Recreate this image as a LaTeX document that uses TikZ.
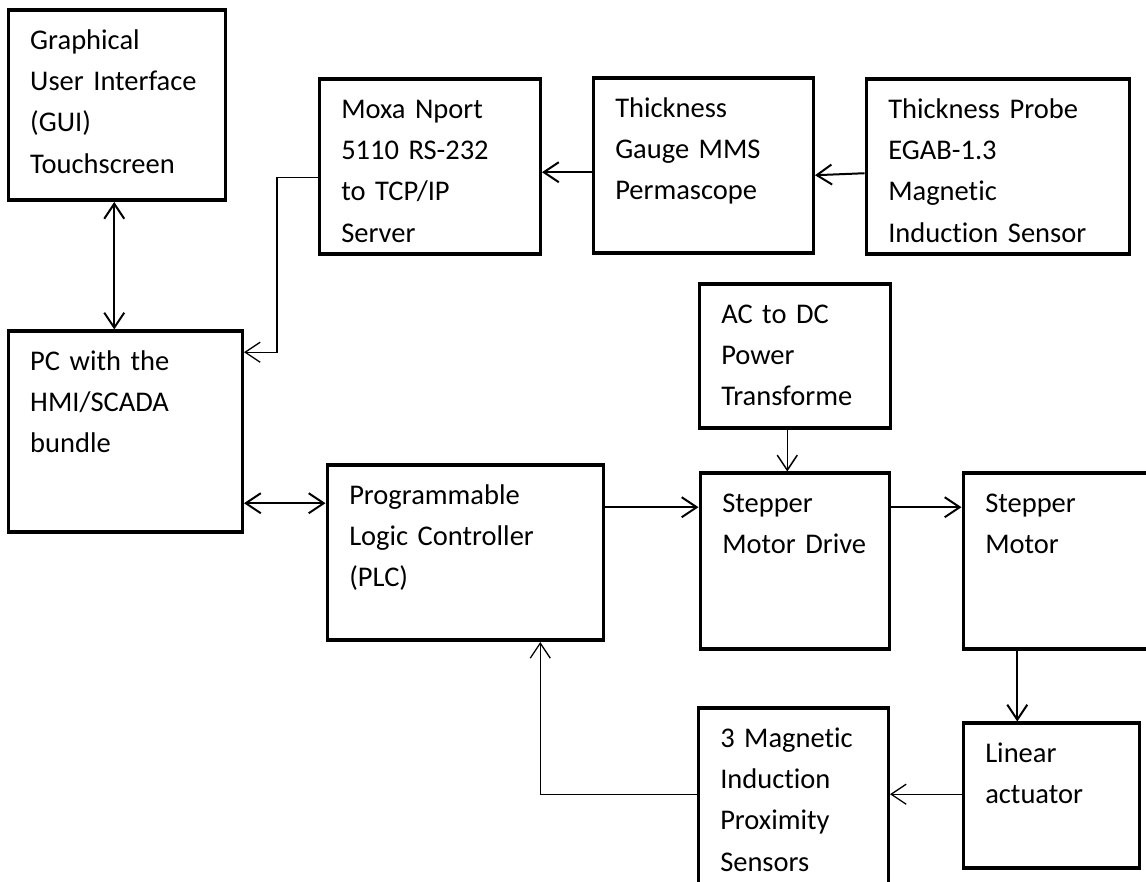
\documentclass[tikz,border=0pt]{standalone}
\usepackage{fontspec}
\setmainfont{Carlito}[Ligatures=NoCommon, WordSpace=0.8]
\usetikzlibrary{arrows.meta}

\begin{document}
\begin{tikzpicture}[x=1pt, y=1pt,
  block/.style={draw, line width=3.5pt, anchor=north west, inner xsep=22pt, inner ysep=0pt,
    align=left, text height=39pt, font=\fontsize{28.5}{41.3}\selectfont},
  arrow/.style={->, >={Straight Barb[length=15pt, width=20pt]}, line width=2pt},
  feed/.style={arrow, line width=1.3pt}
]
\useasboundingbox (0,0) rectangle (1146,882);

% Top row
\node[block, text width=173pt, text depth=151pt] (gui) at (6.5, 873.5)
  {Graphical\\User Interface\\(GUI)\\Touchscreen};
\node[block, text width=177pt, text depth=136pt] (moxa) at (317.5, 804.5)
  {Moxa Nport\\5110 RS-232\\to TCP/IP\\Server};
\node[block, text width=176pt, text depth=136pt] (gauge) at (591.5, 805.5)
  {Thickness\\Gauge MMS\\Permascope};
\node[block, text width=219pt, text depth=136pt] (probe) at (864.5, 804.5)
  {Thickness Probe\\EGAB-1.3\\Magnetic\\Induction Sensor};

% Middle row
\node[block, text width=190pt, text depth=162pt] (pc) at (6.5, 552.5)
  {PC with the\\HMI/SCADA\\bundle};
\node[block, text width=147pt, text depth=105pt] (acdc) at (697.5, 599.5)
  {AC to DC\\Power\\Transforme};
\node[block, text width=232pt, text depth=136pt] (plc) at (325.5, 418.5)
  {Programmable\\Logic Controller\\(PLC)};
\node[block, text width=145pt, text depth=137pt] (drive) at (698.5, 410.5)
  {Stepper\\Motor Drive};
\node[block, text width=148pt, text depth=137pt] (motor) at (961.5, 410.5)
  {Stepper\\Motor};

% Bottom row
\node[block, text width=132pt, text depth=106pt] (linear) at (961.5, 160.5)
  {Linear\\actuator};
\node[block, text width=146pt, text depth=141pt] (prox) at (696.5, 175.5)
  {3 Magnetic\\Induction\\Proximity\\Sensors};

% Links
\draw[arrow, <->] ([xshift=-2.5pt]gui.south) -- ([xshift=-2.5pt]gui.south |- pc.north);
\draw[feed] ([yshift=-10.5pt]moxa.west) -- ++(-40.5,0) |- ([yshift=79.5pt]pc.east);
\draw[arrow] ([yshift=-6.5pt]gauge.west) -- ([yshift=-5.5pt]moxa.east);
\draw[arrow] ([yshift=-6.5pt]probe.west) -- ([yshift=-9.5pt]gauge.east);
\draw[arrow, <->] ([yshift=-71.5pt]pc.east) -- ([yshift=-71.5pt]pc.east -| plc.west);
\draw[arrow] ([yshift=45.5pt]plc.east) -- ([yshift=45.5pt]plc.east -| drive.west);
\draw[arrow] ([yshift=54pt]drive.east) -- ([yshift=54pt]drive.east -| motor.west);
\draw[arrow, line width=1.5pt] ([xshift=-7.5pt]acdc.south) -- ([xshift=-7.5pt]acdc.south |- drive.north);
\draw[arrow] ([xshift=-34pt]linear.north |- motor.south) -- ([xshift=-34pt]linear.north);
\draw[feed] ([yshift=1.5pt]linear.west) -- ([yshift=1.5pt]linear.west -| prox.east);

% Feedback to PLC
\draw[feed] ([yshift=4pt]prox.west) -| ([xshift=75pt]plc.south);

\end{tikzpicture}
\end{document}
